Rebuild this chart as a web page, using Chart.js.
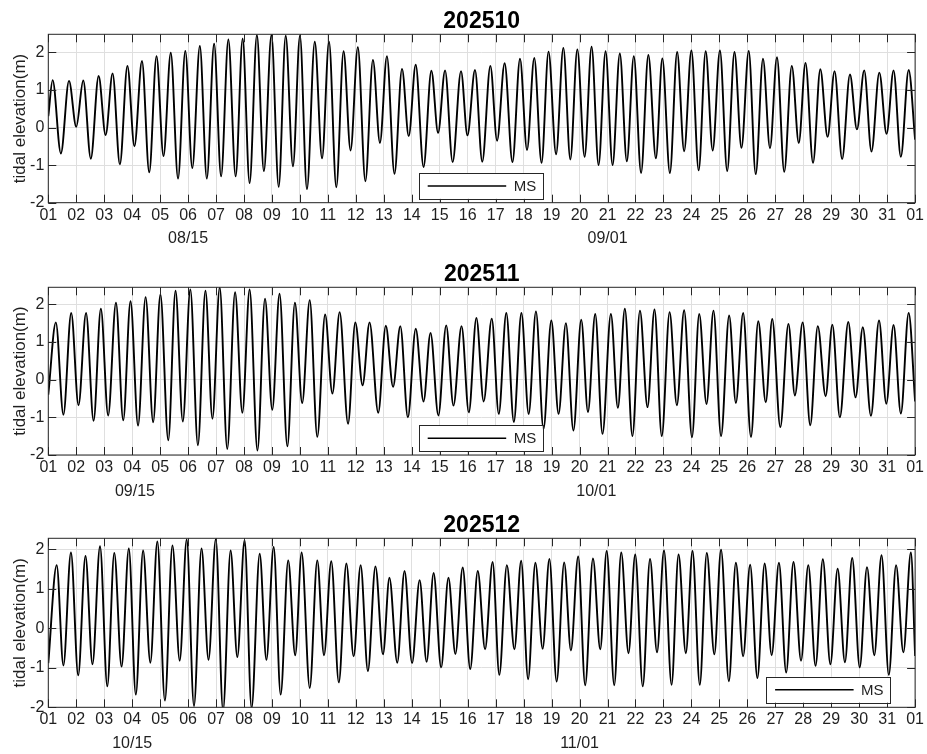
<!DOCTYPE html>
<html>
<head>
<meta charset="utf-8">
<script src="https://cdn.jsdelivr.net/npm/chart.js@4/dist/chart.umd.min.js"></script>
<style>
html,body{margin:0;padding:0;background:#fff;}
#wrap{position:relative;width:927px;height:754px;overflow:hidden;}
.panel{position:absolute;left:0;width:927px;}
canvas{display:block;}
</style>
</head>
<body>
<div id="wrap">
  <div class="panel" style="top:0;height:250px"><canvas id="c1" width="927" height="250"></canvas></div>
  <div class="panel" style="top:250px;height:250px"><canvas id="c2" width="927" height="250"></canvas></div>
  <div class="panel" style="top:500px;height:254px"><canvas id="c3" width="927" height="254"></canvas></div>
</div>
<script>
// ---------- data ----------
const xTickDays = [0,1,2,3,4,5,6,7,8,9,10,11,12,13,14,15,16,17,18,19,20,21,22,23,24,25,26,27,28,29,30,31];
const xTickLabels = ['01','02','03','04','05','06','07','08','09','10','11','12','13','14','15','16','17','18','19','20','21','22','23','24','25','26','27','28','29','30','31','01'];
const yTicks = [-2,-1,0,1,2];
const titles = ['202510','202511','202512'];
const seriesName = 'MS';
const yAxisTitle = 'tidal elevation(m)';

const p1Days = [0,0.155,0.45,0.74,1.00,1.25,1.52,1.80,2.05,2.30,2.56,2.83,3.08,3.35,3.61,3.87,4.12,4.38,4.64,4.90,5.15,5.42,5.67,5.93,6.18,6.44,6.70,6.95,7.20,7.46,7.71,7.98,8.24,8.49,8.75,9.00,9.25,9.53,9.79,10.04,10.30,10.56,10.81,11.07,11.34,11.61,11.86,12.11,12.38,12.65,12.89,13.14,13.42,13.70,13.94,14.19,14.46,14.76,14.99,15.26,15.52,15.81,16.05,16.32,16.60,16.87,17.12,17.38,17.64,17.89,18.16,18.42,18.67,18.92,19.18,19.43,19.68,19.93,20.18,20.44,20.69,20.94,21.20,21.46,21.73,21.96,22.23,22.49,22.74,23.00,23.26,23.51,23.76,24.02,24.28,24.54,24.79,25.05,25.30,25.56,25.81,26.06,26.32,26.59,26.84,27.08,27.35,27.61,27.87,28.12,28.39,28.67,28.92,29.18,29.44,29.72,29.98,30.23,30.49,30.77,31.0];
const p1Elev = [0.30,1.26,-0.69,1.24,0.02,1.25,-0.83,1.37,-0.20,1.44,-0.98,1.64,-0.50,1.77,-1.19,1.90,-0.76,1.99,-1.36,2.04,-1.08,2.17,-1.36,2.23,-1.30,2.34,-1.30,2.36,-1.48,2.46,-1.16,2.46,-1.58,2.44,-1.03,2.44,-1.64,2.28,-0.82,2.28,-1.59,2.03,-0.61,2.14,-1.43,1.80,-0.41,1.90,-1.23,1.56,-0.23,1.67,-1.05,1.51,-0.14,1.52,-0.92,1.50,-0.21,1.53,-0.91,1.64,-0.35,1.71,-0.92,1.83,-0.60,1.85,-0.94,2.02,-0.71,2.12,-0.85,2.08,-0.78,2.15,-1.00,2.03,-1.00,1.97,-0.90,1.90,-1.21,1.93,-0.82,1.84,-1.21,2.01,-0.63,2.05,-1.14,2.03,-0.61,2.05,-1.16,2.01,-0.54,2.04,-1.24,1.83,-0.55,1.87,-1.18,1.64,-0.41,1.72,-0.94,1.55,-0.25,1.50,-0.84,1.41,-0.05,1.52,-0.64,1.46,-0.17,1.52,-0.78,1.53,-0.32];

const p2Days = [0,0.27,0.54,0.82,1.08,1.35,1.62,1.88,2.14,2.42,2.68,2.94,3.21,3.48,3.75,4.01,4.29,4.55,4.81,5.08,5.35,5.62,5.87,6.13,6.40,6.68,6.94,7.20,7.48,7.75,8.01,8.27,8.55,8.82,9.08,9.35,9.62,9.90,10.16,10.42,10.72,10.98,11.24,11.49,11.80,12.07,12.33,12.59,12.86,13.14,13.42,13.67,13.95,14.23,14.49,14.78,15.04,15.31,15.57,15.86,16.11,16.38,16.65,16.92,17.18,17.44,17.71,17.99,18.25,18.51,18.78,19.06,19.30,19.56,19.82,20.12,20.37,20.62,20.89,21.16,21.43,21.68,21.94,22.22,22.48,22.74,23.02,23.28,23.54,23.79,24.06,24.35,24.59,24.85,25.13,25.39,25.66,25.89,26.18,26.47,26.70,26.98,27.25,27.52,27.80,28.04,28.31,28.61,28.87,29.13,29.42,29.71,29.97,30.23,30.49,30.77,31.0];
const p2Elev = [-0.40,1.52,-0.93,1.77,-0.68,1.77,-1.09,1.88,-0.95,2.04,-1.08,2.08,-1.22,2.19,-1.13,2.26,-1.61,2.36,-1.11,2.39,-1.74,2.36,-1.04,2.45,-1.84,2.32,-0.88,2.39,-1.88,2.15,-0.80,2.28,-1.77,2.04,-0.62,2.11,-1.52,1.73,-0.37,1.79,-1.17,1.52,-0.15,1.52,-0.88,1.43,-0.19,1.42,-1.00,1.35,-0.58,1.24,-0.95,1.44,-0.69,1.42,-0.87,1.64,-0.58,1.62,-0.91,1.77,-1.12,1.77,-0.91,1.81,-1.31,1.57,-0.91,1.50,-1.35,1.59,-0.86,1.74,-1.44,1.74,-0.75,1.88,-1.50,1.83,-0.73,1.86,-1.50,1.79,-0.68,1.84,-1.53,1.74,-0.65,1.83,-1.50,1.70,-0.62,1.77,-1.52,1.55,-0.60,1.61,-1.26,1.48,-0.42,1.52,-1.21,1.42,-0.44,1.46,-1.00,1.53,-0.47,1.39,-0.96,1.57,-0.64,1.45,-0.90,1.77,-0.58];

const p3Days = [0,0.30,0.54,0.81,1.07,1.33,1.58,1.85,2.11,2.36,2.62,2.88,3.13,3.39,3.65,3.90,4.17,4.44,4.70,4.95,5.21,5.48,5.73,5.99,6.25,6.52,6.76,7.02,7.27,7.56,7.80,8.06,8.31,8.58,8.83,9.06,9.35,9.62,9.86,10.12,10.39,10.66,10.92,11.17,11.43,11.70,11.97,12.20,12.48,12.74,13.01,13.28,13.53,13.78,14.05,14.31,14.56,14.82,15.09,15.36,15.62,15.89,16.13,16.40,16.67,16.91,17.16,17.42,17.68,17.92,18.18,18.45,18.69,18.95,19.20,19.48,19.74,19.97,20.24,20.49,20.75,20.99,21.26,21.52,21.77,22.02,22.29,22.54,22.80,23.04,23.30,23.55,23.82,24.06,24.34,24.59,24.85,25.10,25.36,25.62,25.87,26.13,26.39,26.65,26.92,27.18,27.44,27.70,27.97,28.23,28.49,28.75,29.02,29.28,29.54,29.80,30.06,30.32,30.58,30.85,31.0];
const p3Elev = [-0.88,1.60,-0.94,1.92,-1.19,1.83,-0.91,2.08,-1.47,1.91,-0.97,2.02,-1.68,1.97,-0.87,2.20,-1.83,2.10,-0.82,2.25,-1.97,2.02,-0.80,2.26,-2.08,1.97,-0.73,2.23,-2.02,1.89,-0.80,2.06,-1.68,1.72,-0.68,1.92,-1.51,1.72,-0.68,1.70,-1.37,1.64,-0.71,1.60,-1.08,1.57,-0.66,1.28,-0.87,1.45,-0.88,1.22,-0.85,1.40,-0.99,1.28,-0.65,1.54,-1.03,1.45,-0.53,1.68,-1.18,1.60,-0.53,1.71,-1.29,1.66,-0.52,1.76,-1.35,1.67,-0.56,1.82,-1.44,1.77,-0.53,1.96,-1.44,1.92,-0.63,1.87,-1.47,1.76,-0.61,1.97,-1.43,1.87,-0.63,1.96,-1.43,1.91,-0.66,1.99,-1.34,1.66,-0.71,1.61,-1.26,1.64,-0.68,1.66,-1.12,1.68,-0.82,1.60,-0.95,1.75,-0.91,1.51,-0.86,1.78,-0.99,1.55,-0.68,1.85,-1.18,1.60,-0.61,1.92,-0.70];

// second-row date labels under the day ticks
const p1DateLabels = ['08/15','09/01'];
const p1DateDays = [5, 20];
const p2DateLabels = ['09/15','10/01'];
const p2DateDays = [3.1, 19.6];
const p3DateLabels = ['10/15','11/01'];
const p3DateDays = [3.0, 19.0];

const yMins = [-2, -2, -2];
const yMaxs = [2.48, 2.45, 2.28];

// ---------- layout / style ----------
const FONT = "'Liberation Sans', Arial, Helvetica, sans-serif";
const INK = '#1f1f1f';
const AXIS = '#262626';
const GRID = '#dfdfdf';

const panels = [
  {id:'c1', h:250, top:34.3, bottom:202.7, days:p1Days, elev:p1Elev, dl:p1DateLabels, dd:p1DateDays, legend:'south'},
  {id:'c2', h:250, top:37.3, bottom:205.0, days:p2Days, elev:p2Elev, dl:p2DateLabels, dd:p2DateDays, legend:'south'},
  {id:'c3', h:254, top:38.3, bottom:207.3, days:p3Days, elev:p3Elev, dl:p3DateLabels, dd:p3DateDays, legend:'southeast'}
];

function makeDecor(idx, p){
  return {
    id: 'decor' + idx,
    afterDatasetsDraw(chart){
      const {ctx, chartArea:a, scales:{x, y}} = chart;
      ctx.save();
      ctx.strokeStyle = AXIS;
      ctx.lineWidth = 1;
      ctx.beginPath();
      xTickDays.forEach(d => {
        const px = Math.round(x.getPixelForValue(d)) + 0.5;
        ctx.moveTo(px, a.bottom); ctx.lineTo(px, a.bottom - 8);
        ctx.moveTo(px, a.top); ctx.lineTo(px, a.top + 8);
      });
      yTicks.forEach(v => {
        const py = Math.round(y.getPixelForValue(v)) + 0.5;
        ctx.moveTo(a.left, py); ctx.lineTo(a.left + 8, py);
        ctx.moveTo(a.right, py); ctx.lineTo(a.right - 8, py);
      });
      ctx.stroke();
      ctx.strokeRect(a.left, a.top, a.right - a.left, a.bottom - a.top);
      ctx.restore();
    },
    afterDraw(chart){
      const {ctx, chartArea:a, scales:{x}} = chart;
      ctx.save();
      // title
      ctx.fillStyle = '#000';
      ctx.font = 'bold 23px ' + FONT;
      ctx.textAlign = 'center';
      ctx.textBaseline = 'alphabetic';
      ctx.fillText(titles[idx], (a.left + a.right) / 2, a.top - 6.2);
      // second-row date labels
      ctx.fillStyle = INK;
      ctx.font = '16px ' + FONT;
      p.dl.forEach((t, i) => {
        ctx.fillText(t, x.getPixelForValue(p.dd[i]), a.bottom + 40.5);
      });
      // legend box
      const w = 124, h = 26;
      let left, bottom;
      if (p.legend === 'southeast') { left = a.right - 25 - w; bottom = a.bottom - 4.6; }
      else { left = (a.left + a.right) / 2 - w / 2 - 1; bottom = a.bottom - 3.8; }
      const top = bottom - h;
      ctx.fillStyle = '#fff';
      ctx.fillRect(left, top, w, h);
      ctx.strokeStyle = AXIS;
      ctx.lineWidth = 1;
      ctx.strokeRect(Math.round(left) + 0.5, Math.round(top) + 0.5, w, h);
      const my = top + h / 2;
      ctx.strokeStyle = '#000';
      ctx.lineWidth = 1.5;
      ctx.beginPath();
      ctx.moveTo(left + 9, my); ctx.lineTo(left + 87.5, my);
      ctx.stroke();
      ctx.fillStyle = INK;
      ctx.font = '15px ' + FONT;
      ctx.textAlign = 'left';
      ctx.textBaseline = 'middle';
      ctx.fillText(seriesName, left + 95, my + 1);
      ctx.restore();
    }
  };
}

panels.forEach((p, idx) => {
  const data = p.days.map((d, i) => ({x: d, y: p.elev[i]}));
  new Chart(document.getElementById(p.id), {
    type: 'line',
    data: { datasets: [{
      label: seriesName,
      data: data,
      borderColor: '#000',
      borderWidth: 1.9,
      pointRadius: 0,
      fill: false,
      cubicInterpolationMode: 'monotone'
    }]},
    options: {
      responsive: false,
      animation: false,
      devicePixelRatio: 1,
      layout: { padding: { top: p.top, right: 11, left: 0, bottom: 0 } },
      plugins: { legend: { display: false }, title: { display: false }, tooltip: { enabled: false } },
      events: [],
      scales: {
        x: {
          type: 'linear', min: 0, max: 31,
          afterBuildTicks: s => { s.ticks = xTickDays.map(v => ({value: v})); },
          afterFit: s => { s.height = p.h - p.bottom; },
          ticks: {
            autoSkip: false, maxRotation: 0, minRotation: 0, padding: 3,
            color: INK, font: { family: FONT, size: 16 },
            callback: (v, i) => xTickLabels[i]
          },
          grid: { color: GRID, lineWidth: 1, drawTicks: false },
          border: { display: false }
        },
        y: {
          type: 'linear', min: yMins[idx], max: yMaxs[idx],
          afterBuildTicks: s => { s.ticks = yTicks.map(v => ({value: v})); },
          afterFit: s => { s.width = 48.3; },
          ticks: { padding: 4, color: INK, font: { family: FONT, size: 16 }, callback: v => String(v) },
          grid: { color: GRID, lineWidth: 1, drawTicks: false },
          border: { display: false },
          title: { display: true, text: yAxisTitle, color: INK, font: { family: FONT, size: 17 }, padding: { top: 10, bottom: 0 } }
        }
      }
    },
    plugins: [makeDecor(idx, p)]
  });
});
</script>
</body>
</html>
